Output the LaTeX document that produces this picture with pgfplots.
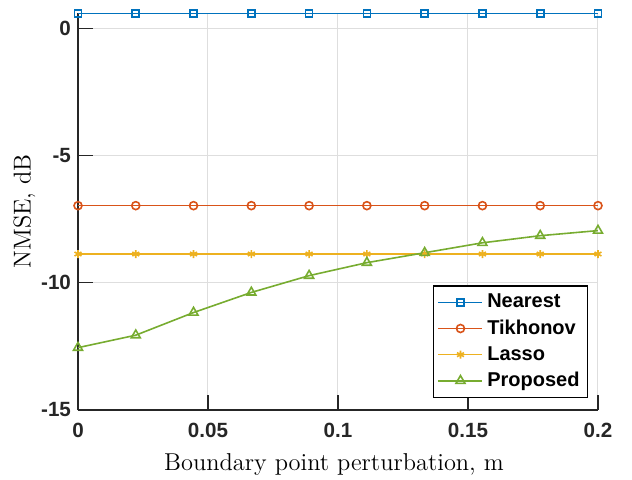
\documentclass[border=0pt]{standalone}
\usepackage{fontspec}
\setsansfont{Liberation Sans}
\usepackage{pgfplots}
\pgfplotsset{compat=1.18}
\definecolor{mB}{rgb}{0,0.447,0.741}
\definecolor{mR}{rgb}{0.85,0.325,0.098}
\definecolor{mY}{rgb}{0.929,0.694,0.125}
\definecolor{mG}{rgb}{0.466,0.674,0.188}
\definecolor{axc}{rgb}{0.15,0.15,0.15}
\definecolor{grc}{rgb}{0.87,0.87,0.87}
\begin{document}
\begin{tikzpicture}
\begin{axis}[
  scale only axis, width=260pt, height=198.5pt,
  xmin=0, xmax=0.2, ymin=-15, ymax=0.6,
  axis lines*=left, axis line style={axc, line width=0.6pt},
  tick align=inside, major tick length=7.5pt, tick style={axc, line width=0.6pt},
  xtick={0,0.05,0.1,0.15,0.2}, xticklabels={0,0.05,0.1,0.15,0.2},
  ytick={-15,-10,-5,0}, yticklabels={-15,-10,-5,0},
  ticklabel style={font=\sffamily\bfseries\fontsize{10.3}{12}\selectfont, text=axc},
  xticklabel style={yshift=-3pt},
  grid=major, major grid style={grc, line width=0.5pt},
  xlabel={Boundary point perturbation, m},
  ylabel={NMSE, dB},
  label style={font=\fontsize{12.2}{14}\selectfont},
  xlabel style={yshift=-1pt, xshift=-2pt},
  ylabel shift=-4pt,
  legend style={at={(0.981,0.03)}, anchor=south east, font=\sffamily\bfseries\fontsize{10}{12}\selectfont,
    draw=black, line width=0.6pt, row sep=0.5pt, inner sep=2pt},
  legend cell align=left,
  legend image code/.code={\draw[#1] (0pt,0pt) -- (11pt,0pt) plot coordinates {(11pt,0pt)} (11pt,0pt) -- (22pt,0pt);},
]
\addplot[mB, line width=0.8pt, mark=square, mark size=1.75pt, mark options={solid}] coordinates {
(0,0.59) (0.02222,0.59) (0.04444,0.59) (0.06667,0.59) (0.08889,0.59) (0.11111,0.59) (0.13333,0.59) (0.15556,0.59) (0.17778,0.59) (0.2,0.59)};
\addlegendentry{Nearest}
\addplot[mR, line width=0.8pt, mark=o, mark size=2pt] coordinates {
(0,-6.97) (0.02222,-6.97) (0.04444,-6.97) (0.06667,-6.97) (0.08889,-6.97) (0.11111,-6.97) (0.13333,-6.97) (0.15556,-6.97) (0.17778,-6.97) (0.2,-6.97)};
\addlegendentry{Tikhonov}
\addplot[mY, line width=0.8pt, mark=asterisk, mark size=2pt] coordinates {
(0,-8.87) (0.02222,-8.87) (0.04444,-8.87) (0.06667,-8.87) (0.08889,-8.87) (0.11111,-8.87) (0.13333,-8.87) (0.15556,-8.87) (0.17778,-8.87) (0.2,-8.87)};
\addlegendentry{Lasso}
\addplot[mG, line width=0.8pt, mark=triangle, mark size=2.6pt] coordinates {
(0,-12.55) (0.02222,-12.06) (0.04444,-11.17) (0.06667,-10.38) (0.08889,-9.72) (0.11111,-9.21) (0.13333,-8.82) (0.15556,-8.43) (0.17778,-8.15) (0.2,-7.95)};
\addlegendentry{Proposed}
\end{axis}
\pgfresetboundingbox
\path[use as bounding box] (-39pt,-34.5pt) rectangle (277pt,205pt);
\end{tikzpicture}
\end{document}
